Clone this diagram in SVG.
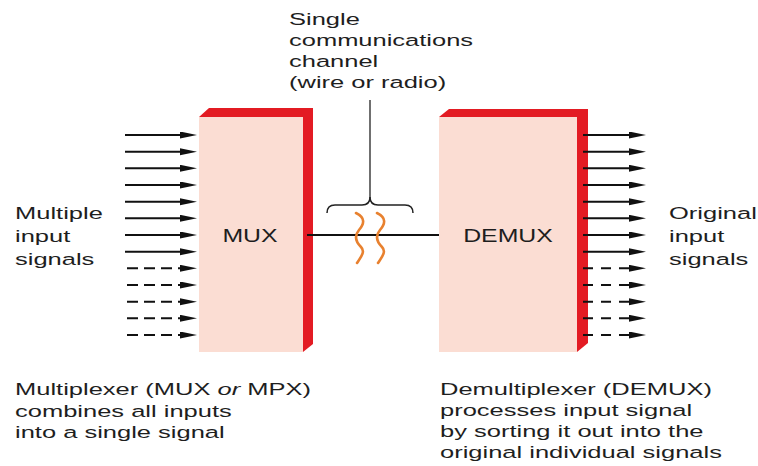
<svg xmlns="http://www.w3.org/2000/svg" width="758" height="466" viewBox="0 0 758 466">
<style>
.t{font-family:"Liberation Sans",Arial,sans-serif;font-size:17px;fill:#1e1e1e}
.big{font-family:"Liberation Sans",Arial,sans-serif;font-size:18px;fill:#1e1e1e;text-anchor:middle}
.face{fill:#fbddd3}
.side{fill:#e31b23}
.ar{stroke:#111;stroke-width:2;fill:none;marker-end:url(#ah)}
.da{stroke-dasharray:11 6}
.dr{stroke-dasharray:10 8}
.wave{stroke:#e8812f;stroke-width:2.6;fill:none;stroke-linecap:round}
</style>
<defs>
<marker id="ah" markerUnits="userSpaceOnUse" markerWidth="18" markerHeight="8" refX="7" refY="3.5" orient="auto">
<path d="M0,0 L17,3.5 L0,7 z" fill="#111"/>
</marker>
</defs>
<rect width="758" height="466" fill="#fff"/>

<g id="mux">
<path class="side" d="M199,117 L209,108 L313,108 L313,344 L303,352 Z"/>
<rect class="face" x="199" y="117" width="104" height="235"/>
<text class="big" transform="matrix(1.38 0 0 1 250 242)">MUX</text>
</g>

<g id="demux">
<path class="side" d="M439,117 L449,109 L588,109 L588,343 L577,352 Z"/>
<rect class="face" x="439" y="117" width="138" height="235"/>
<text class="big" transform="matrix(1.38 0 0 1 508 242)">DEMUX</text>
</g>

<g id="connectors">
<g id="inputs">
<line class="ar" x1="125" y1="135" x2="187" y2="135"/>
<line class="ar" x1="125" y1="151.7" x2="187" y2="151.7"/>
<line class="ar" x1="125" y1="168.3" x2="187" y2="168.3"/>
<line class="ar" x1="125" y1="185" x2="187" y2="185"/>
<line class="ar" x1="125" y1="201.7" x2="187" y2="201.7"/>
<line class="ar" x1="125" y1="218.3" x2="187" y2="218.3"/>
<line class="ar" x1="125" y1="235" x2="187" y2="235"/>
<line class="ar" x1="125" y1="251.7" x2="187" y2="251.7"/>
<line class="ar da" x1="127" y1="268.3" x2="187" y2="268.3"/>
<line class="ar da" x1="127" y1="285" x2="187" y2="285"/>
<line class="ar da" x1="127" y1="301.7" x2="187" y2="301.7"/>
<line class="ar da" x1="127" y1="318.3" x2="187" y2="318.3"/>
<line class="ar da" x1="127" y1="335" x2="187" y2="335"/>
</g>
<g id="outputs">
<line class="ar" x1="583" y1="135" x2="636" y2="135"/>
<line class="ar" x1="583" y1="151.7" x2="636" y2="151.7"/>
<line class="ar" x1="583" y1="168.3" x2="636" y2="168.3"/>
<line class="ar" x1="583" y1="185" x2="636" y2="185"/>
<line class="ar" x1="583" y1="201.7" x2="636" y2="201.7"/>
<line class="ar" x1="583" y1="218.3" x2="636" y2="218.3"/>
<line class="ar" x1="583" y1="235" x2="636" y2="235"/>
<line class="ar" x1="583" y1="251.7" x2="636" y2="251.7"/>
<line class="ar dr" x1="583" y1="268.3" x2="636" y2="268.3"/>
<line class="ar dr" x1="583" y1="285" x2="636" y2="285"/>
<line class="ar dr" x1="583" y1="301.7" x2="636" y2="301.7"/>
<line class="ar dr" x1="583" y1="318.3" x2="636" y2="318.3"/>
<line class="ar dr" x1="583" y1="335" x2="636" y2="335"/>
</g>
<line id="link" x1="307" y1="235" x2="439" y2="235" stroke="#111" stroke-width="2"/>
</g>

<g id="channel">
<line x1="370" y1="100" x2="370" y2="198" stroke="#222" stroke-width="1.3"/>
<path d="M327,213 Q327,205 335,205 L362,205 Q370,205 370,197 Q370,205 378,205 L405,205 Q413,205 413,213" fill="none" stroke="#222" stroke-width="1.5"/>
<path class="wave" d="M356,213 C366,218 364,224 359,230 C354,236 356,242 361,247 C366,252 360,258 357,263"/>
<path class="wave" d="M377,213 C387,218 385,224 380,230 C375,236 377,242 382,247 C387,252 381,258 378,263"/>
<text class="t" transform="matrix(1.5 0 0 1 289 25)">Single</text>
<text class="t" transform="matrix(1.5 0 0 1 289 46)">communications</text>
<text class="t" transform="matrix(1.5 0 0 1 289 67)">channel</text>
<text class="t" transform="matrix(1.5 0 0 1 289 88)">(wire or radio)</text>
</g>

<g id="labels">
<text class="t" transform="matrix(1.5 0 0 1 15 219)">Multiple</text>
<text class="t" transform="matrix(1.5 0 0 1 15 242)">input</text>
<text class="t" transform="matrix(1.5 0 0 1 15 265)">signals</text>
<text class="t" transform="matrix(1.5 0 0 1 669 219)">Original</text>
<text class="t" transform="matrix(1.5 0 0 1 669 242)">input</text>
<text class="t" transform="matrix(1.5 0 0 1 669 265)">signals</text>
<text class="t" transform="matrix(1.5 0 0 1 15 395)">Multiplexer (MUX <tspan font-style="italic">or</tspan> MPX)</text>
<text class="t" transform="matrix(1.5 0 0 1 15 416.5)">combines all inputs</text>
<text class="t" transform="matrix(1.5 0 0 1 15 438)">into a single signal</text>
<text class="t" transform="matrix(1.5 0 0 1 440 395)">Demultiplexer (DEMUX)</text>
<text class="t" transform="matrix(1.5 0 0 1 440 416)">processes input signal</text>
<text class="t" transform="matrix(1.5 0 0 1 440 437)">by sorting it out into the</text>
<text class="t" transform="matrix(1.5 0 0 1 440 458)">original individual signals</text>
</g>
</svg>
